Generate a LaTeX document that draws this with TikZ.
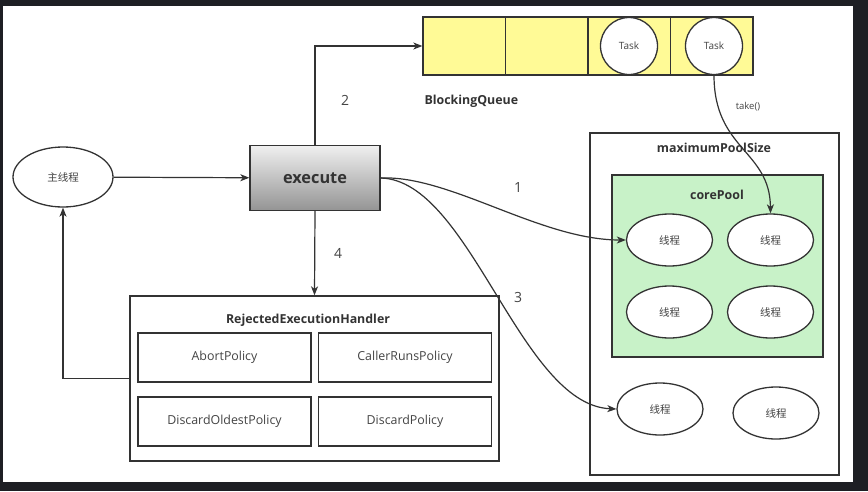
\documentclass[tikz,border=0pt]{standalone}
\usepackage{fontspec}
\setmainfont{Open Sans}
\newfontfamily\cjk{Noto Sans CJK SC}
\usetikzlibrary{arrows.meta,shapes.geometric}
\definecolor{frame}{HTML}{1E1F24}
\definecolor{ink}{HTML}{333333}
\definecolor{txt}{HTML}{444444}
\definecolor{qyellow}{HTML}{FFFA96}
\definecolor{cgreen}{HTML}{C8F2C8}
\tikzset{
  box/.style={draw=ink, line width=1.3pt, rectangle, inner sep=0pt},
  ell/.style={draw=ink, line width=1.3pt, ellipse, fill=white, inner sep=0pt,
    minimum width=86pt, minimum height=52pt, text=txt, font=\cjk\fontsize{10.5}{12}\selectfont},
  arr/.style={draw=ink, line width=1.2pt, -{Stealth[length=9pt,width=7pt,inset=2.5pt]}},
  lab/.style={text=txt, font=\fontsize{14}{16}\selectfont},
  ttl/.style={text=ink, font=\bfseries\fontsize{12.4}{14}\selectfont},
  pol/.style={box, minimum width=173pt, minimum height=49pt, text=txt, font=\fontsize{12.4}{14}\selectfont},
  cell/.style={box, fill=qyellow, minimum width=82.5pt, minimum height=58pt},
  task/.style={draw=ink, line width=1.3pt, circle, fill=white, minimum size=57pt, inner sep=0pt,
    text=txt, font=\fontsize{10}{11}\selectfont},
}
\begin{document}
\begin{tikzpicture}[x=1pt,y=-1pt]
\fill[frame] (0,0) rectangle (868,491);
\fill[white] (3,6) rectangle (853,482);
\useasboundingbox (0,0) rectangle (868,491);

% blocking queue
\node[cell] (q1) at (464.25,46) {};
\node[cell] (q2) at (546.75,46) {};
\node[cell] (q3) at (629.25,46) {};
\node[cell] (q4) at (711.75,46) {};
\node[task] (t1) at (629,46) {Task};
\node[task] (t2) at (714,46) {Task};
\node[ttl, anchor=west] (bq) at (421,101) {BlockingQueue};

% main thread and execute
\node[ell, minimum width=100pt, minimum height=60pt] (main) at (63,177) {主线程};
\node[box, minimum width=130pt, minimum height=65pt, top color=white!94!black, bottom color=white!58!black,
  text=ink, font=\bfseries\fontsize{16.3}{19}\selectfont] (ex) at (315,178) {execute};

% rejected execution handler
\node[box, minimum width=369pt, minimum height=165pt] (rh) at (314.5,378.5) {};
\node[ttl] (rht) at (308,320) {RejectedExecutionHandler};
\node[pol] (p1) at (224.5,357.5) {AbortPolicy};
\node[pol] (p2) at (405,357.5) {CallerRunsPolicy};
\node[pol] (p3) at (224.5,421.5) {DiscardOldestPolicy};
\node[pol] (p4) at (405,421.5) {DiscardPolicy};

% maximum pool
\node[box, minimum width=249pt, minimum height=342pt] (mp) at (714.5,304) {};
\node[ttl] (mpt) at (714,148) {maximumPoolSize};
\node[box, fill=cgreen, minimum width=211pt, minimum height=182pt] (cp) at (717.5,266) {};
\node[ttl] (cpt) at (717,195) {corePool};
\node[ell] (c1) at (669.5,240) {线程};
\node[ell] (c2) at (770.5,240) {线程};
\node[ell] (c3) at (669.5,312) {线程};
\node[ell] (c4) at (770.5,312) {线程};
\node[ell] (o1) at (660,409) {线程};
\node[ell] (o2) at (776,413) {线程};

% connectors
\draw[arr] (main) -- (ex);
\draw[arr] (ex.north) |- (q1.west);
\draw[arr] (ex.south) -- (rh.north);
\draw[arr] (rh.west) -| (main.south);
\draw[arr] (ex.east) .. controls (450,175) and (540,240) .. (c1.west);
\draw[arr] (ex.east) .. controls (470,180) and (520,405) .. (o1.west);
\draw[arr] (t2.south) .. controls (714,150) and (770,150) .. (c2.north);

% labels
\node[lab] (l2) at (345,100) {2};
\node[lab] (l4) at (338,253) {4};
\node[lab] (l1) at (518,187) {1};
\node[lab] (l3) at (518,297) {3};
\node[text=txt, font=\fontsize{9.5}{11}\selectfont] (tk) at (748,107) {take()};
\end{tikzpicture}
\end{document}
